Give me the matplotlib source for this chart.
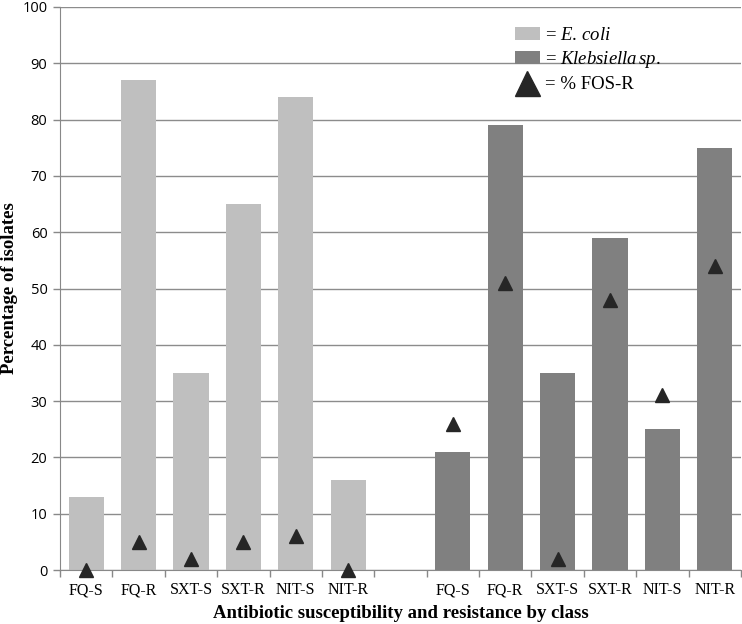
import matplotlib
matplotlib.use("Agg")
import matplotlib.pyplot as plt
from matplotlib.patches import Patch
from matplotlib.lines import Line2D
import numpy as np

plt.rcParams['mathtext.fontset'] = 'custom'
plt.rcParams['mathtext.rm'] = 'Liberation Serif'
plt.rcParams['mathtext.it'] = 'Liberation Serif:italic'

classes = ["FQ-S", "FQ-R", "SXT-S", "SXT-R", "NIT-S", "NIT-R"]
ecoli = [13, 87, 35, 65, 84, 16]
ecoli_fos = [0, 5, 2, 5, 6, 0]
kleb = [21, 79, 35, 59, 25, 75]
kleb_fos = [26, 51, 2, 48, 31, 54]
yticks = list(range(0, 101, 10))

fig = plt.figure(figsize=(7.42, 6.24), dpi=100)
ax = fig.add_axes([60/742, 54/624, 681/742, 563/624])

x_e = np.arange(6)
x_k = np.arange(7, 13)
light = "#BFBFBF"
dark = "#808080"
tri = "#262626"
w = 0.67

ax.bar(x_e, ecoli, width=w, color=light, zorder=2)
ax.bar(x_k, kleb, width=w, color=dark, zorder=2)
ax.plot(x_e, ecoli_fos, linestyle='none', marker='^', color=tri, markersize=10, zorder=4, clip_on=False)
ax.plot(x_k, kleb_fos, linestyle='none', marker='^', color=tri, markersize=10, zorder=4, clip_on=False)

ax.set_xlim(-0.5, 12.5)
ax.set_ylim(0, 100)
ax.set_yticks(yticks)
ax.set_yticklabels([str(t) for t in yticks], family='Open Sans', fontsize=10.5)
ax.set_xticks(list(x_e) + list(x_k))
ax.set_xticklabels(classes + classes, family='Liberation Serif', fontsize=11.5)
ax.tick_params(axis='x', length=0, pad=9)
ax.set_xticks(np.arange(-0.5, 13, 1), minor=True)
ax.tick_params(axis='x', which='minor', length=5, color='#888888', width=1)
ax.tick_params(axis='y', length=5, color='#888888', width=1, pad=4)

ax.grid(axis='y', color='#8C8C8C', linewidth=1, zorder=0)
ax.set_axisbelow(True)
for s in ['top', 'right']:
    ax.spines[s].set_visible(False)
ax.spines['left'].set_color('#888888')
ax.spines['bottom'].set_color('#888888')

ax.set_ylabel("Percentage of isolates", family='Liberation Serif', fontweight='bold', fontsize=13.5)
ax.yaxis.set_label_coords(-0.061, 0.5)
ax.set_xlabel("Antibiotic susceptibility and resistance by class", family='Liberation Serif',
              fontweight='bold', fontsize=13.5)
ax.xaxis.set_label_coords(0.5, -0.062)

handles = [Patch(facecolor=light, edgecolor='none'),
           Patch(facecolor=dark, edgecolor='none'),
           Line2D([], [], linestyle='none', marker='^', color=tri, markersize=18)]
labels = [r"= $\mathit{E.\,coli}$", r"= $\mathit{Klebsiella\,sp.}$", "= % FOS-R"]
leg = ax.legend(handles, labels, loc='upper left', bbox_to_anchor=(0.643, 0.995), frameon=False,
                prop={'family': 'Liberation Serif', 'size': 13.5}, handlelength=1.35,
                handletextpad=0.25, labelspacing=0.3)

fig.savefig("out.png", dpi=100)
